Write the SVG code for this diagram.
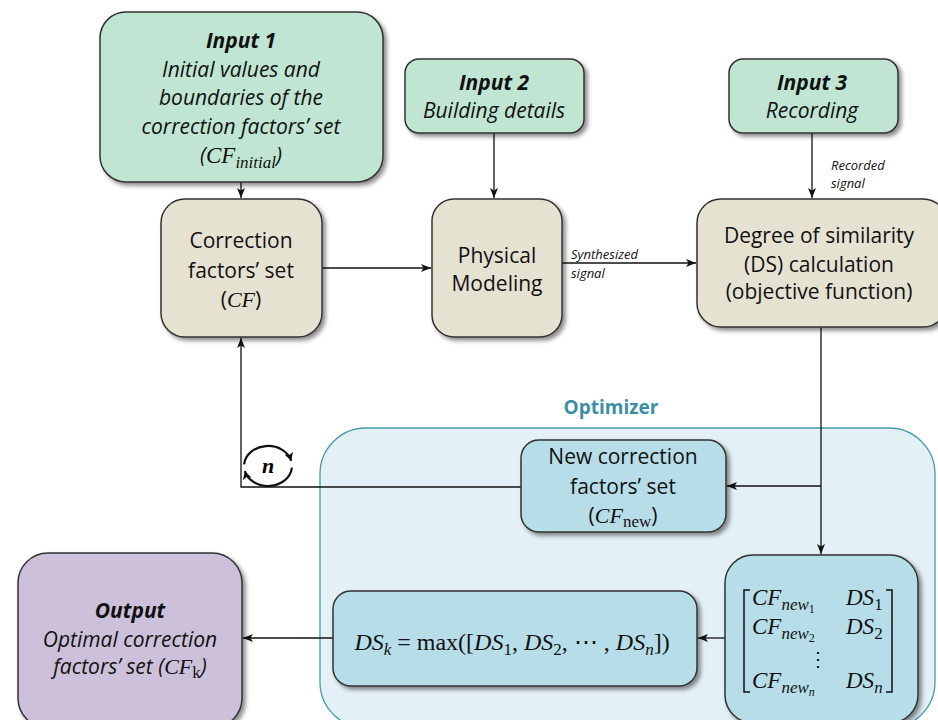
<svg xmlns="http://www.w3.org/2000/svg" width="938" height="720" viewBox="0 0 938 720">
<defs>
  <filter id="sh" x="-10%" y="-10%" width="130%" height="130%">
    <feDropShadow dx="3" dy="3" stdDeviation="2" flood-color="#000" flood-opacity="0.45"/>
  </filter>
  <marker id="ar" markerUnits="userSpaceOnUse" markerWidth="11" markerHeight="9" refX="10" refY="4.5" orient="auto">
    <path d="M0,0.5 L10,4.5 L0,8.5 L2.5,4.5 z" fill="#111"/>
  </marker>
  <marker id="ars" markerUnits="userSpaceOnUse" markerWidth="10" markerHeight="9" refX="8" refY="4.5" orient="auto">
    <path d="M0,0 L8,4.5 L0,9 L2,4.5 z" fill="#111"/>
  </marker>
</defs>
<style>
  .box{stroke:#333;stroke-width:1.5;filter:url(#sh)}
  .green{fill:#c0e6d3}
  .beige{fill:#e6e2d2}
  .blue{fill:#b7dee8}
  .purple{fill:#ccc0da}
  .t{font-family:"Open Sans",Lato,sans-serif;font-size:21px;fill:#111;text-anchor:middle}
  .it{font-style:italic}
  .b{font-weight:bold}
  .m{font-family:"Liberation Serif","Times New Roman",serif;font-style:italic}
  .up{font-family:"Liberation Serif","Times New Roman",serif;font-style:normal}
  .lbl{font-family:"Open Sans",Lato,sans-serif;font-size:13px;font-style:italic;fill:#111}
  .con{fill:none;stroke:#111;stroke-width:1.3}
</style>
<rect width="938" height="720" fill="#fff"/>

<g id="optimizer">
  <rect x="320" y="428" width="615" height="300" rx="46" fill="#e3f0f5" stroke="#4a9bb0" stroke-width="1.3"/>
  <text x="611" y="414" class="t b" style="fill:#3a8fa5;font-size:19px">Optimizer</text>
</g>

<g id="connectors">
  <line x1="241" y1="182" x2="241" y2="198" class="con" marker-end="url(#ar)"/>
  <line x1="494" y1="133" x2="494" y2="198" class="con" marker-end="url(#ar)"/>
  <line x1="812" y1="133" x2="812" y2="198" class="con" marker-end="url(#ar)"/>
  <line x1="322" y1="268" x2="431" y2="268" class="con" marker-end="url(#ar)"/>
  <line x1="562" y1="263" x2="696" y2="263" class="con" marker-end="url(#ar)"/>
  <line x1="821" y1="327" x2="821" y2="554" class="con" marker-end="url(#ar)"/>
  <line x1="821" y1="486" x2="727" y2="486" class="con" marker-end="url(#ar)"/>
  <polyline points="521,487 241,487 241,338" class="con" marker-end="url(#ar)"/>
  <line x1="725" y1="638" x2="698" y2="638" class="con" marker-end="url(#ar)"/>
  <line x1="333" y1="638" x2="243" y2="638" class="con" marker-end="url(#ar)"/>
  <text class="lbl" x="571" y="259">Synthesized</text>
  <text class="lbl" x="571" y="278">signal</text>
  <text class="lbl" x="831" y="170">Recorded</text>
  <text class="lbl" x="831" y="188">signal</text>
</g>

<g id="loop">
  <path d="M244.1,464.3 A24,20 0 0 1 291.2,460.8" fill="none" stroke="#111" stroke-width="2.2" marker-end="url(#ars)"/>
  <path d="M291.9,467.7 A24,20 0 0 1 244.8,471.2" fill="none" stroke="#111" stroke-width="2.2" marker-end="url(#ars)"/>
  <text x="268" y="473" style="font-family:'Liberation Serif',serif;font-style:italic;font-weight:bold;font-size:22px;text-anchor:middle">n</text>
</g>

<g id="input1">
  <rect x="100" y="12" width="283" height="170" rx="26" class="box green"/>
  <text class="t it b" x="241" y="48">Input 1</text>
  <text class="t it" x="241" y="77">Initial values and</text>
  <text class="t it" x="241" y="105">boundaries of the</text>
  <text class="t it" x="241" y="134">correction factors’ set</text>
  <text class="t it" x="241" y="163">(<tspan class="m" font-size="23">CF</tspan><tspan class="m" font-size="17" dy="5">initial</tspan><tspan dy="-5">)</tspan></text>
</g>

<g id="input2">
  <rect x="405" y="59" width="179" height="74" rx="14" class="box green"/>
  <text class="t it b" x="494" y="90">Input 2</text>
  <text class="t it" x="494" y="118">Building details</text>
</g>

<g id="input3">
  <rect x="729" y="59" width="169" height="74" rx="14" class="box green"/>
  <text class="t it b" x="812" y="90">Input 3</text>
  <text class="t it" x="812" y="118">Recording</text>
</g>

<g id="cfset">
  <rect x="161" y="199" width="161" height="138" rx="24" class="box beige"/>
  <text class="t" x="241" y="248">Correction</text>
  <text class="t" x="241" y="278">factors’ set</text>
  <text class="t" x="241" y="307">(<tspan class="m" font-size="22">CF</tspan>)</text>
</g>

<g id="physical">
  <rect x="432" y="199" width="130" height="138" rx="22" class="box beige"/>
  <text class="t" x="497" y="263">Physical</text>
  <text class="t" x="497" y="291">Modeling</text>
</g>

<g id="dscalc">
  <rect x="697" y="199" width="250" height="128" rx="24" class="box beige"/>
  <text class="t" x="819" y="243">Degree of similarity</text>
  <text class="t" x="819" y="272">(DS) calculation</text>
  <text class="t" x="819" y="299">(objective function)</text>
</g>

<g id="newcf">
  <rect x="521" y="440" width="205" height="92" rx="18" class="box blue"/>
  <text class="t" x="623" y="464">New correction</text>
  <text class="t" x="623" y="494">factors’ set</text>
  <text class="t" x="623" y="523">(<tspan class="m" font-size="22">CF</tspan><tspan class="up" font-size="17" dy="4">new</tspan><tspan dy="-4">)</tspan></text>
</g>

<g id="matrix">
  <rect x="725" y="555" width="193" height="168" rx="28" class="box blue"/>
  <path d="M750,590 L744,590 L744,692 L750,692" fill="none" stroke="#111" stroke-width="1.5"/>
  <path d="M886,590 L892,590 L892,692 L886,692" fill="none" stroke="#111" stroke-width="1.5"/>
  <g style="font-family:'Liberation Serif',serif;font-size:23px;fill:#111">
    <text x="752" y="605"><tspan font-style="italic">CF</tspan><tspan font-style="italic" font-size="17" dy="5">new</tspan><tspan font-size="12" dy="3">1</tspan></text>
    <text x="846" y="605"><tspan font-style="italic">DS</tspan><tspan font-size="17" dy="5">1</tspan></text>
    <text x="752" y="634"><tspan font-style="italic">CF</tspan><tspan font-style="italic" font-size="17" dy="5">new</tspan><tspan font-size="12" dy="3">2</tspan></text>
    <text x="846" y="634"><tspan font-style="italic">DS</tspan><tspan font-size="17" dy="5">2</tspan></text>
    <text x="818" y="666" text-anchor="middle" font-size="20">⋮</text>
    <text x="752" y="688"><tspan font-style="italic">CF</tspan><tspan font-style="italic" font-size="17" dy="5">new</tspan><tspan font-style="italic" font-size="12" dy="3">n</tspan></text>
    <text x="846" y="688"><tspan font-style="italic">DS</tspan><tspan font-style="italic" font-size="17" dy="5">n</tspan></text>
  </g>
</g>

<g id="dsk">
  <rect x="333" y="591" width="364" height="95" rx="18" class="box blue"/>
  <text x="512" y="650" style="font-family:'Liberation Serif',serif;font-size:24px;fill:#111;text-anchor:middle"><tspan font-style="italic">DS</tspan><tspan font-style="italic" font-size="17" dy="5">k</tspan><tspan dy="-5"> = max([</tspan><tspan font-style="italic">DS</tspan><tspan font-size="17" dy="5">1</tspan><tspan dy="-5">, </tspan><tspan font-style="italic">DS</tspan><tspan font-size="17" dy="5">2</tspan><tspan dy="-5">, ⋯ , </tspan><tspan font-style="italic">DS</tspan><tspan font-style="italic" font-size="17" dy="5">n</tspan><tspan dy="-5">])</tspan></text>
</g>

<g id="output">
  <rect x="18" y="553" width="224" height="175" rx="30" class="box purple"/>
  <text class="t it b" x="130" y="618">Output</text>
  <text class="t it" x="130" y="647">Optimal correction</text>
  <text class="t it" x="130" y="674">factors’ set (<tspan class="m" font-size="22">CF</tspan><tspan class="up" font-size="17" dy="4">k</tspan><tspan dy="-4">)</tspan></text>
</g>
</svg>
